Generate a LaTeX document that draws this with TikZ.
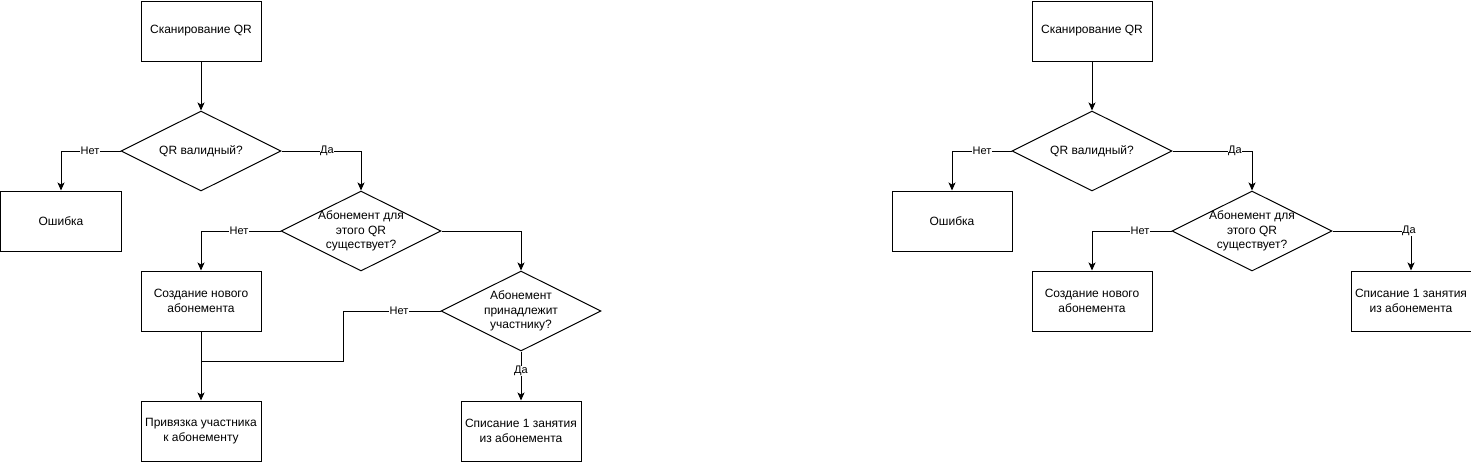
\documentclass[tikz,border=0pt]{standalone}
\usepackage{fontspec}
\setmainfont{Liberation Sans}
\usetikzlibrary{shapes.geometric,arrows.meta}
\begin{document}
\begin{tikzpicture}[x=1pt,y=-1pt,
  every node/.style={font=\fontsize{12}{14.4}\selectfont},
  box/.style={draw,line width=1pt,minimum width=120pt,minimum height=60pt,inner sep=0pt,align=center},
  dia/.style={draw,diamond,line width=1pt,minimum width=160pt,minimum height=80pt,inner sep=0pt},
  dtext/.style={align=center,inner sep=0pt},
  conn/.style={line width=1pt,-{Stealth[length=8pt,width=7pt,inset=2pt]}},
  lbl/.style={fill=white,inner sep=0.5pt,font=\fontsize{11}{13}\selectfont}
]
\useasboundingbox (-1,-1) rectangle (1470,460);
% ---------- left diagram ----------
\node[box] (s1) at (200,30) {Сканирование QR};
\node[dia] (v1) at (200,150) {};
\node[dtext] at (v1) {QR валидный?};
\node[box] (e1) at (60,220) {Ошибка};
\node[dia] (x1) at (360,230) {};
\node[dtext] at (x1) {Абонемент для\\этого QR\\существует?};
\node[box] (c1) at (200,300) {Создание нового\\абонемента};
\node[dia] (p1) at (520,310) {};
\node[dtext] at (p1) {Абонемент\\принадлежит\\участнику?};
\node[box] (b1) at (200,430) {Привязка участника\\к абонементу};
\node[box] (w1) at (520,430) {Списание 1 занятия\\из абонемента};
\coordinate (j1) at (200,360);

\draw[conn] (s1) -- (v1);
\draw[conn] (v1.west) -| (e1.north);
\node[lbl] at (89,150) {Нет};
\draw[conn] (v1.east) -| (x1.north);
\node[lbl] at (326,150) {Да};
\draw[conn] (x1.west) -| (c1.north);
\node[lbl] at (238,230) {Нет};
\draw[conn] (x1.east) -| (p1.north);
\draw[conn] (c1.south) -- (b1.north);
\draw[line width=1pt] (p1.west) -- (342,310) -- (342,360) -- (j1);
\node[lbl] at (398,310) {Нет};
\draw[conn] (p1.south) -- (w1.north);
\node[lbl] at (520,370) {Да};
% ---------- right diagram ----------
\node[box] (s2) at (1091,30) {Сканирование QR};
\node[dia] (v2) at (1091,150) {};
\node[dtext] at (v2) {QR валидный?};
\node[box] (e2) at (951,220) {Ошибка};
\node[dia] (x2) at (1251,230) {};
\node[dtext] at (x2) {Абонемент для\\этого QR\\существует?};
\node[box] (c2) at (1091,300) {Создание нового\\абонемента};
\node[box] (w2) at (1410,300) {Списание 1 занятия\\из абонемента};

\draw[conn] (s2) -- (v2);
\draw[conn] (v2.west) -| (e2.north);
\node[lbl] at (981,150) {Нет};
\draw[conn] (v2.east) -| (x2.north);
\node[lbl] at (1234,150) {Да};
\draw[conn] (x2.west) -| (c2.north);
\node[lbl] at (1139,230) {Нет};
\draw[conn] (x2.east) -| (w2.north);
\node[lbl] at (1408,230) {Да};
\end{tikzpicture}
\end{document}
